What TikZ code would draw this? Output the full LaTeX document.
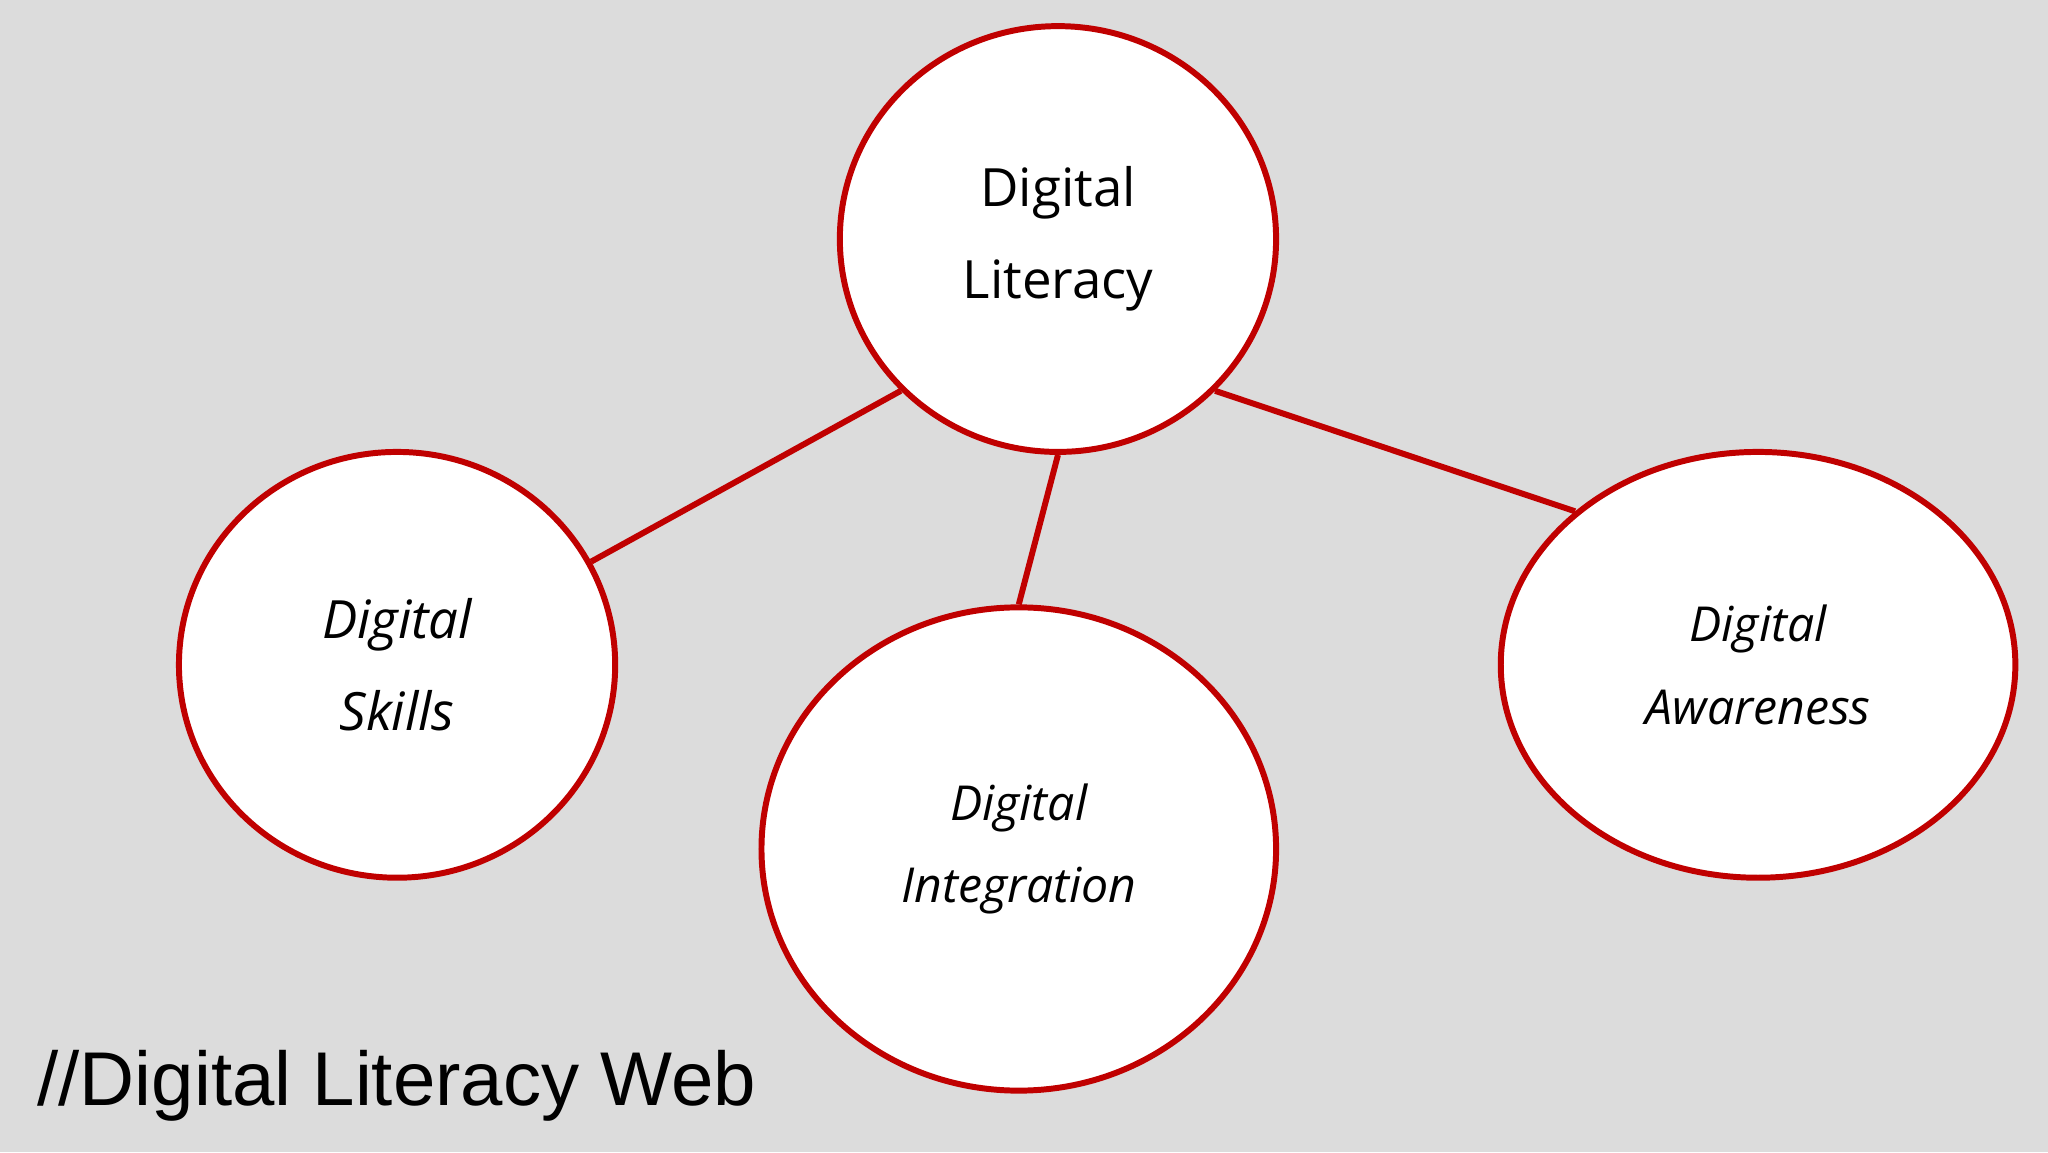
\documentclass[tikz,border=0pt]{standalone}
\usepackage{fontspec}
\setmainfont{Open Sans}
\newfontfamily\titlefont{Liberation Sans}
\usetikzlibrary{shapes.geometric}
\definecolor{bg}{HTML}{DCDCDC}
\definecolor{rim}{HTML}{C00000}
\tikzset{
  bubble/.style={ellipse, draw=rim, line width=1.3pt, fill=white, inner sep=0pt, align=center,
    font=\fontsize{11.5}{20}\selectfont},
  link/.style={draw=rim, line width=1.3pt}
}
\begin{document}
\begin{tikzpicture}
\fill[bg] (0,0) rectangle (15.68,8.82);
\useasboundingbox (0,0) rectangle (15.68,8.82);
\node[bubble, minimum width=3.34cm, minimum height=3.26cm] (lit) at (8.10,6.99) {Digital\\Literacy};
\node[bubble, minimum width=3.34cm, minimum height=3.26cm, font=\fontsize{11.5}{20}\selectfont\itshape] (skl) at (3.04,3.73) {Digital\\Skills};
\node[bubble, minimum width=3.94cm, minimum height=3.70cm, font=\fontsize{10.5}{18}\selectfont\itshape] (int) at (7.80,2.32) {Digital\\Integration};
\node[bubble, minimum width=3.94cm, minimum height=3.26cm, font=\fontsize{10.5}{18}\selectfont\itshape] (awa) at (13.46,3.73) {Digital\\Awareness};
\draw[link] (lit.224) -- (skl.28);
\draw[link] (lit.270) -- (int.90);
\draw[link] (lit.316) -- (awa.140);
\node[anchor=west, inner sep=0pt, font=\titlefont\fontsize{16.6}{20}\selectfont] (title) at (0.28,0.51) {//Digital Literacy Web};
\end{tikzpicture}
\end{document}
